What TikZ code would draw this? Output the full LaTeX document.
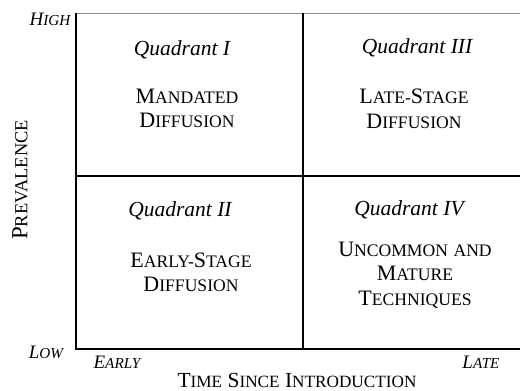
\documentclass[tikz,border=0pt]{standalone}
\usepackage{fontspec}
\setmainfont{Liberation Serif}
\usepackage{graphicx}
\newcommand{\smcap}[2]{#1\scalebox{0.8}{#2}}

\begin{document}
\begin{tikzpicture}[x=1pt,y=-1pt]
	\tikzstyle{axis} = [draw=black, line width=1.1pt]
	\tikzstyle{quad} = [inner sep=0, anchor=base, font=\fontsize{21.5}{24}\selectfont\itshape]
	\tikzstyle{body} = [inner sep=0, align=center, font=\fontsize{22}{24.5}\selectfont]
	\tikzstyle{tick} = [inner sep=0, font=\fontsize{19}{22}\selectfont\itshape]
	\tikzstyle{title} = [inner sep=0, font=\fontsize{21.5}{24}\selectfont]
	\useasboundingbox (0,0) rectangle (520,391);
		\coordinate (tl) at (76,13);
		\coordinate (tm) at (303,13);
		\coordinate (tr) at (520,13);
		\coordinate (ml) at (76,176);
		\coordinate (mr) at (520,176);
		\coordinate (bl) at (76,349);
		\coordinate (bm) at (303,349);
		\coordinate (br) at (520,349);

		\draw[draw=black!45, line width=0.8pt] (tl) -- (tr);
		\draw[axis] (tl) -- (bl) -- (br);
		\draw[axis] (tm) -- (bm);
		\draw[axis] (ml) -- (mr);

		\node[quad] (q1) at (182,55) {Quadrant I};
		\node[quad] (q3) at (417,53) {Quadrant III};
		\node[quad] (q2) at (180,216) {Quadrant II};
		\node[quad] (q4) at (409,215) {Quadrant IV};

		\node[body] (mandated) at (187,108.5) {\smcap{M}{ANDATED}\\\smcap{D}{IFFUSION}};
		\node[body] (late) at (414,109) {\smcap{L}{ATE-}\smcap{S}{TAGE}\\\smcap{D}{IFFUSION}};
		\node[body] (early) at (191,272.5) {\smcap{E}{ARLY-}\smcap{S}{TAGE}\\\smcap{D}{IFFUSION}};
		\node[body] (uncommon) at (415,275) {\smcap{U}{NCOMMON} \smcap{}{AND}\\\smcap{M}{ATURE}\\\smcap{T}{ECHNIQUES}};

		\node[tick] (high) at (50,19) {\smcap{H}{IGH}};
		\node[tick] (low) at (46,352) {\smcap{L}{OW}};
		\node[tick] (earlyt) at (117,362) {\smcap{E}{ARLY}};
		\node[tick] (latet) at (481,362) {\smcap{L}{ATE}};

		\node[title] (time) at (297,380) {\smcap{T}{IME} \smcap{S}{INCE} \smcap{I}{NTRODUCTION}};
		\node[title, font=\fontsize{23}{26}\selectfont, rotate=90] (prev) at (20,180) {\smcap{P}{REVALENCE}};
\end{tikzpicture}
\end{document}
